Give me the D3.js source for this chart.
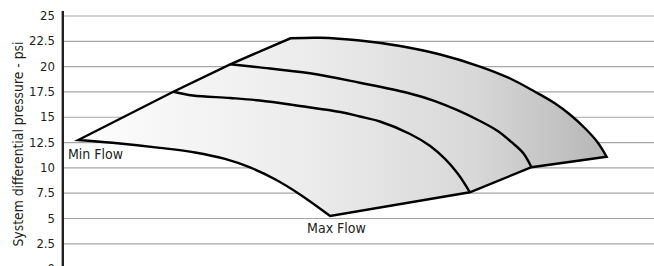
<!DOCTYPE html>
<html>
<head>
<meta charset="utf-8">
<script src="https://cdn.jsdelivr.net/npm/d3@7"></script>
<style>
  body { margin: 0; background: #fff; }
  svg text { font-family: "DejaVu Sans Condensed", "Liberation Sans Narrow", sans-serif; fill: #231f20; }
</style>
</head>
<body>
<div id="chart"></div>
<script>
// pressure axis ticks (psi)
var psiTicks = [0, 2.5, 5, 7.5, 10, 12.5, 15, 17.5, 20, 22.5, 25];

// envelope, [flow %, psi]
var minFlowEdge = [[2.75, 12.70], [18.8, 17.47], [28.4, 20.18], [38.6, 22.75]];
var maxFlowEdge = [[92.0, 11.05], [79.3, 10.01], [68.9, 7.54], [45.3, 5.20]];

// pump speed curves, top to bottom
var speed1 = [[38.6, 22.75], [43.6, 22.80], [50.3, 22.53], [57.1, 21.99], [63.9, 21.15],
  [70.6, 19.96], [75.7, 18.78], [79.9, 17.47], [83.3, 16.31], [85.8, 15.22], [88.3, 13.89],
  [90.4, 12.53], [92.0, 11.05]];
var speed2 = [[28.4, 20.18], [33.4, 19.88], [41.9, 19.29], [50.3, 18.36], [58.3, 17.37],
  [63.0, 16.55], [66.7, 15.67], [70.6, 14.58], [73.6, 13.59], [76.0, 12.46], [77.9, 11.42],
  [79.3, 10.01]];
var speed3 = [[18.8, 17.47], [22.1, 17.10], [28.4, 16.85], [33.4, 16.60], [40.2, 16.06],
  [47.0, 15.47], [50.3, 15.02], [53.7, 14.53], [58.8, 13.30], [62.2, 12.11], [64.7, 10.83],
  [66.9, 9.34], [68.9, 7.54]];
var speed4 = [[2.75, 12.70], [9.8, 12.36], [16.55, 11.93], [22.47, 11.47], [27.53, 10.83],
  [31.76, 9.99], [35.98, 8.83], [40.2, 7.33], [45.3, 5.20]];

var labels = [
  {text: "Min Flow", at: [1.0, 10.8]},
  {text: "Max Flow", at: [41.4, 3.5]}
];

var W = 654, H = 266;
var svg = d3.select("#chart").append("svg").attr("width", W).attr("height", H);

var x = d3.scaleLinear().domain([0, 100]).range([62, 654]);
var y = d3.scaleLinear().domain([0, 25]).range([268.6, 15.5]);

var defs = svg.append("defs");
var grad = defs.append("linearGradient").attr("id", "fillGrad")
    .attr("gradientUnits", "userSpaceOnUse")
    .attr("x1", x(2.75)).attr("x2", x(92)).attr("y1", 0).attr("y2", 0);
grad.append("stop").attr("offset", "0%").attr("stop-color", "#fdfdfd");
grad.append("stop").attr("offset", "45%").attr("stop-color", "#ebebeb");
grad.append("stop").attr("offset", "75%").attr("stop-color", "#d8d8d8");
grad.append("stop").attr("offset", "100%").attr("stop-color", "#b6b6b6");

// grid lines
svg.append("g")
    .attr("transform", "translate(" + x(0) + ",0)")
    .call(d3.axisRight(y).tickValues(psiTicks).tickSize(W - x(0)).tickFormat(""))
    .call(function(g) {
      g.select(".domain").remove();
      g.selectAll("line").attr("stroke", "#a6a6a6").attr("stroke-width", 1.2);
    });

var line = d3.line().x(function(d) { return x(d[0]); }).y(function(d) { return y(d[1]); });
var smooth = d3.line().x(function(d) { return x(d[0]); }).y(function(d) { return y(d[1]); })
    .curve(d3.curveCatmullRom.alpha(0.5));

var outline = line(minFlowEdge)
  + smooth(speed1).replace(/^M/, "L")
  + line(maxFlowEdge).replace(/^M/, "L")
  + smooth(speed4.slice().reverse()).replace(/^M/, "L") + "Z";

svg.append("path").attr("d", outline).attr("fill", "url(#fillGrad)");

[speed2, speed3].forEach(function(s) {
  svg.append("path").attr("d", smooth(s))
      .attr("fill", "none").attr("stroke", "#000").attr("stroke-width", 2.4);
});
svg.append("path").attr("d", outline)
    .attr("fill", "none").attr("stroke", "#000").attr("stroke-width", 2.4)
    .attr("stroke-linejoin", "miter");

// y axis
svg.append("line")
    .attr("x1", x(0) + 0.8).attr("x2", x(0) + 0.8)
    .attr("y1", y(25.45)).attr("y2", H)
    .attr("stroke", "#231f20").attr("stroke-width", 2.4);

svg.append("g")
    .attr("transform", "translate(" + x(0) + ",0)")
    .call(d3.axisLeft(y).tickValues(psiTicks).tickSize(0).tickPadding(7)
      .tickFormat(function(d) { return d; }))
    .call(function(g) {
      g.select(".domain").remove();
      g.selectAll("text").attr("font-size", 13)
        .attr("font-family", null).attr("fill", null);
    });

svg.append("text")
    .attr("transform", "translate(23," + 144 + ") rotate(-90)")
    .attr("text-anchor", "middle")
    .attr("font-size", 13.8)
    .text("System differential pressure - psi");

svg.selectAll(".lbl").data(labels).enter().append("text")
    .attr("class", "lbl")
    .attr("x", function(d) { return x(d.at[0]); })
    .attr("y", function(d) { return y(d.at[1]); })
    .attr("font-size", 14)
    .text(function(d) { return d.text; });
</script>
</body>
</html>
